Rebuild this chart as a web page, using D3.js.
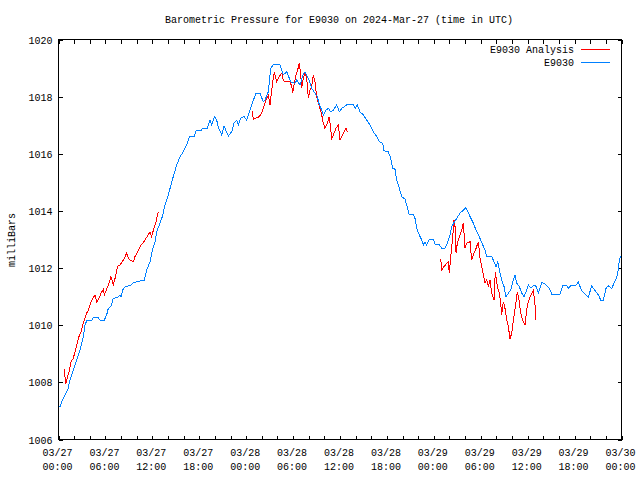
<!DOCTYPE html>
<html><head><meta charset="utf-8">
<script src="https://cdn.jsdelivr.net/npm/d3@7"></script>
<style>
body{margin:0;background:#fff}
svg{display:block}
text{font-family:"Liberation Mono","DejaVu Sans Mono",monospace;font-size:10px;fill:#000}
</style>
</head><body><svg id="c" width="640" height="480"></svg>
<script>
// ---- data (hours after 2024-03-27 00:00 UTC, pressure in mb) ----
const chartTitle = "Barometric Pressure for E9030 on 2024-Mar-27 (time in UTC)";
const yLabel = "milliBars";
const seriesNames = ["E9030 Analysis", "E9030"];
const seriesColors = ["#ff0000", "#0080ff"];

const yTicks = [1006, 1008, 1010, 1012, 1014, 1016, 1018, 1020];
const xLabelHours = [0, 6, 12, 18, 24, 30, 36, 42, 48, 54, 60, 66, 72];
const xLabelDates = ["03/27","03/27","03/27","03/27","03/28","03/28","03/28","03/28","03/29","03/29","03/29","03/29","03/30"];
const xLabelTimes = ["00:00","06:00","12:00","18:00","00:00","06:00","12:00","18:00","00:00","06:00","12:00","18:00","00:00"];
const xTickStepHours = 2;

const stationHours = [0.0,0.23,0.49,1.18,1.47,1.89,2.33,2.75,3.17,3.39,3.61,4.25,4.45,5.01,5.31,5.86,6.16,6.37,6.71,7.01,7.57,7.87,7.99,8.29,8.59,9.27,9.57,10.97,11.28,11.70,12.0,12.34,12.56,12.98,13.28,13.62,14.04,14.55,15.12,15.54,15.96,16.40,16.73,17.33,17.59,18.19,18.44,19.03,19.38,19.59,19.93,20.23,20.44,20.87,21.17,21.72,22.15,22.45,22.79,23.0,23.30,23.72,24.07,24.49,24.84,25.26,25.77,26.19,26.41,26.83,27.14,27.47,28.33,28.75,29.19,29.70,30.25,30.47,30.89,31.31,31.53,31.95,32.38,32.80,33.10,33.36,33.66,33.87,34.21,34.51,34.81,35.15,35.58,35.91,36.22,36.86,37.70,37.92,38.21,38.56,38.98,39.42,39.84,40.26,40.70,41.03,41.46,41.63,42.18,42.49,42.74,43.04,43.25,43.59,43.89,44.31,44.53,44.87,45.38,45.59,45.81,46.14,46.45,46.65,46.87,47.09,47.29,47.42,47.93,48.15,48.70,49.01,49.43,49.72,50.07,50.3,50.6,50.93,51.35,51.77,52.05,52.33,52.63,53.05,53.40,53.69,54.0,54.25,54.55,54.76,55.40,55.70,55.95,56.17,56.38,56.68,56.98,57.23,57.53,57.83,58.09,58.38,58.60,58.93,59.24,59.53,59.79,60.08,60.43,60.72,61.07,61.36,61.80,62.22,62.77,63.08,64.14,64.48,64.99,65.20,65.51,66.06,66.48,66.91,67.34,67.76,68.19,68.61,69.04,69.34,69.68,70.02,70.31,70.75,71.04,71.39,71.60,71.73,71.91];
const stationPressure = [1007.15,1007.15,1007.38,1007.73,1008.08,1008.43,1008.78,1009.13,1009.6,1010.0,1010.16,1010.16,1010.28,1010.28,1010.18,1010.18,1010.36,1010.59,1010.67,1010.94,1010.98,1011.06,1010.98,1011.29,1011.35,1011.41,1011.49,1011.58,1011.93,1012.22,1012.63,1012.92,1013.27,1013.57,1013.80,1014.21,1014.56,1015.08,1015.61,1015.90,1016.07,1016.31,1016.60,1016.60,1016.80,1016.80,1016.89,1016.89,1017.18,1017.01,1017.30,1017.18,1016.93,1016.66,1016.97,1016.62,1016.77,1017.07,1017.18,1017.01,1017.24,1017.30,1017.18,1017.53,1017.82,1018.12,1018.12,1017.82,1017.88,1018.17,1018.99,1019.11,1019.11,1018.76,1018.87,1018.52,1018.47,1018.58,1018.40,1018.81,1018.87,1018.64,1018.29,1018.12,1018.0,1017.71,1017.53,1017.36,1017.53,1017.59,1017.47,1017.53,1017.71,1017.47,1017.59,1017.71,1017.71,1017.59,1017.71,1017.47,1017.36,1017.18,1017.01,1016.77,1016.60,1016.42,1016.37,1016.11,1016.07,1015.84,1015.49,1015.46,1015.08,1014.79,1014.50,1014.41,1014.21,1013.86,1013.86,1013.74,1013.39,1013.16,1012.98,1012.81,1012.92,1012.81,1012.92,1013.01,1013.01,1012.84,1012.81,1012.69,1012.69,1012.87,1013.16,1013.45,1013.6,1013.74,1013.92,1014.03,1014.11,1014.0,1013.80,1013.57,1013.33,1013.16,1012.98,1012.81,1012.63,1012.40,1012.40,1012.22,1012.05,1012.22,1011.93,1011.58,1011.35,1011.0,1011.12,1011.23,1011.52,1011.76,1011.47,1011.35,1011.12,1011.0,1011.17,1011.41,1011.30,1011.38,1011.37,1011.12,1011.50,1011.44,1011.29,1011.09,1011.09,1011.38,1011.38,1011.29,1011.38,1011.38,1011.50,1011.21,1011.09,1010.98,1011.38,1011.21,1011.06,1010.88,1010.88,1011.29,1011.38,1011.29,1011.47,1011.68,1011.96,1012.31,1012.40];

// analysis series: null marks a gap between runs
const analysisHours = [0.74,0.92,1.05,1.34,1.60,1.89,2.11,2.33,2.62,2.88,3.17,3.39,3.61,3.81,4.03,4.32,4.67,4.89,5.18,5.44,5.73,5.86,6.04,6.37,6.71,7.01,7.23,7.57,7.87,8.29,8.72,9.02,9.57,9.78,10.21,10.55,10.85,11.28,11.70,11.91,12.12,12.43,12.69,12.85,
  18.0,
  24.79,24.91,25.55,25.86,26.12,26.41,26.63,26.83,27.05,27.27,27.47,27.6,27.90,28.24,28.55,28.75,28.97,29.61,29.83,29.95,30.16,30.37,30.59,30.80,30.98,31.10,31.31,31.53,31.74,31.95,32.17,32.38,32.59,32.80,33.02,33.23,33.44,33.66,33.87,34.08,34.38,34.63,34.94,35.15,35.49,35.78,36.00,36.22,36.51,36.77,36.94,
  43.0,
  48.88,49.01,49.30,49.56,49.85,49.98,50.16,50.42,50.58,50.71,50.84,51.0,51.26,51.57,51.77,51.99,52.21,52.63,52.84,53.05,53.40,53.69,53.91,54.12,54.33,54.55,54.76,54.97,55.19,55.40,55.70,55.86,56.12,56.38,56.55,56.68,56.89,57.10,57.32,57.53,57.74,57.96,58.17,58.47,58.68,58.93,59.11,59.37,59.66,59.96,60.30,60.52,60.72,60.94,61.07];
const analysisPressure = [1008.45,1007.94,1008.08,1008.37,1008.72,1008.84,1009.07,1009.31,1009.60,1009.77,1010.07,1010.24,1010.42,1010.53,1010.71,1010.91,1011.06,1010.82,1010.94,1011.12,1011.26,1011.06,1011.17,1011.41,1011.70,1011.41,1011.64,1012.07,1012.11,1012.28,1012.52,1012.31,1012.22,1012.40,1012.63,1012.81,1012.89,1013.08,1013.27,1013.10,1013.31,1013.57,1013.92,1013.94,
  null,
  1017.50,1017.21,1017.28,1017.36,1017.53,1017.77,1017.94,1018.05,1017.70,1018.23,1018.64,1018.85,1018.52,1018.70,1018.82,1018.58,1018.52,1018.52,1018.35,1018.12,1018.47,1018.76,1018.94,1019.17,1018.76,1018.29,1018.64,1018.82,1018.64,1017.94,1018.23,1018.35,1018.76,1018.52,1018.00,1017.77,1017.59,1017.36,1017.07,1016.89,1017.07,1017.30,1016.54,1016.66,1016.89,1017.01,1016.48,1016.60,1016.77,1016.89,1016.77,
  null,
  1012.31,1011.93,1012.05,1012.14,1012.22,1011.82,1012.40,1013.10,1013.68,1013.45,1012.52,1012.87,1013.10,1013.33,1013.57,1012.69,1012.87,1012.92,1012.28,1012.46,1012.69,1012.92,1012.34,1012.05,1011.76,1011.47,1011.58,1011.35,1011.58,1011.12,1010.88,1011.87,1011.35,1011.12,1010.77,1010.36,1010.82,1010.59,1010.18,1009.95,1009.52,1009.72,1010.18,1010.71,1011.17,1010.82,1010.42,1010.18,1010.01,1010.71,1011.0,1011.12,1011.23,1010.70,1010.18];

// ---- drawing ----
const svg = d3.select("#c");
const L = 58.5, R = 621.5, T = 39.5, B = 439.5;
const x = d3.scaleLinear().domain([0, 72]).range([L, R]);
const y = d3.scaleLinear().domain([1006, 1020]).range([B, T]);

svg.append("rect").attr("width", 640).attr("height", 480).attr("fill", "#fff");

const xTickVals = d3.range(0, 72 + 0.001, xTickStepHours);
const tickLen = 4;

function noDomain(g){ g.select(".domain").remove(); g.selectAll("text").remove(); g.selectAll("line").attr("stroke","#000").attr("shape-rendering","crispEdges"); }

svg.append("g").attr("transform", `translate(0,${B})`)
  .call(d3.axisBottom(x).tickValues(xTickVals).tickSize(-tickLen).tickFormat("")).call(noDomain);
svg.append("g").attr("transform", `translate(0,${T})`)
  .call(d3.axisTop(x).tickValues(xTickVals).tickSize(-tickLen).tickFormat("")).call(noDomain);
svg.append("g").attr("transform", `translate(${L},0)`)
  .call(d3.axisLeft(y).tickValues(yTicks).tickSize(-tickLen).tickFormat("")).call(noDomain);
svg.append("g").attr("transform", `translate(${R},0)`)
  .call(d3.axisRight(y).tickValues(yTicks).tickSize(-tickLen).tickFormat("")).call(noDomain);

// y tick labels
svg.append("g").selectAll("text").data(yTicks).join("text")
  .attr("x", L - 6).attr("y", d => y(d) + 1.5)
  .attr("text-anchor", "end").attr("dominant-baseline", "middle")
  .text(d => d);

// x tick labels
const xl = svg.append("g").selectAll("g").data(xLabelHours).join("g");
xl.append("text").attr("x", d => x(d) - 1).attr("y", 453).attr("text-anchor","middle").attr("dominant-baseline","middle")
  .text((d,i) => xLabelDates[i]);
xl.append("text").attr("x", d => x(d) - 1).attr("y", 467).attr("text-anchor","middle").attr("dominant-baseline","middle")
  .text((d,i) => xLabelTimes[i]);

// title and axis label
svg.append("text").attr("x", 339).attr("y", 20).attr("text-anchor","middle").attr("dominant-baseline","middle").text(chartTitle);
svg.append("text").attr("transform", "translate(12,240) rotate(-90)").attr("text-anchor","middle").attr("dominant-baseline","middle").text(yLabel);

// clip
svg.append("clipPath").attr("id","clip").append("rect").attr("x",L).attr("y",T).attr("width",R-L).attr("height",B-T);

const analysis = analysisHours.map((h,i) => ({h, p: analysisPressure[i]}));
const station = stationHours.map((h,i) => ({h, p: stationPressure[i]}));
const line = d3.line().defined(d => d.p != null).x(d => x(d.h)).y(d => y(d.p));

const plot = svg.append("g").attr("clip-path","url(#clip)");
plot.append("path").datum(analysis).attr("d", line).attr("fill","none").attr("stroke", seriesColors[0]).attr("stroke-width",1).attr("shape-rendering","crispEdges");
plot.append("path").datum(station).attr("d", line).attr("fill","none").attr("stroke", seriesColors[1]).attr("stroke-width",1).attr("shape-rendering","crispEdges");

// frame
svg.append("rect").attr("x",L).attr("y",T).attr("width",R-L).attr("height",B-T)
  .attr("fill","none").attr("stroke","#000").attr("shape-rendering","crispEdges");

// legend
const leg = svg.append("g").selectAll("g").data(seriesNames).join("g");
leg.append("text").attr("x", 574).attr("y", (d,i) => 50 + i*13).attr("text-anchor","end").attr("dominant-baseline","middle").text(d => d);
leg.append("line").attr("x1", 581).attr("x2", 610).attr("y1", (d,i) => 49.5 + i*13).attr("y2", (d,i) => 49.5 + i*13)
  .attr("stroke", (d,i) => seriesColors[i]).attr("shape-rendering","crispEdges");
</script></body></html>
